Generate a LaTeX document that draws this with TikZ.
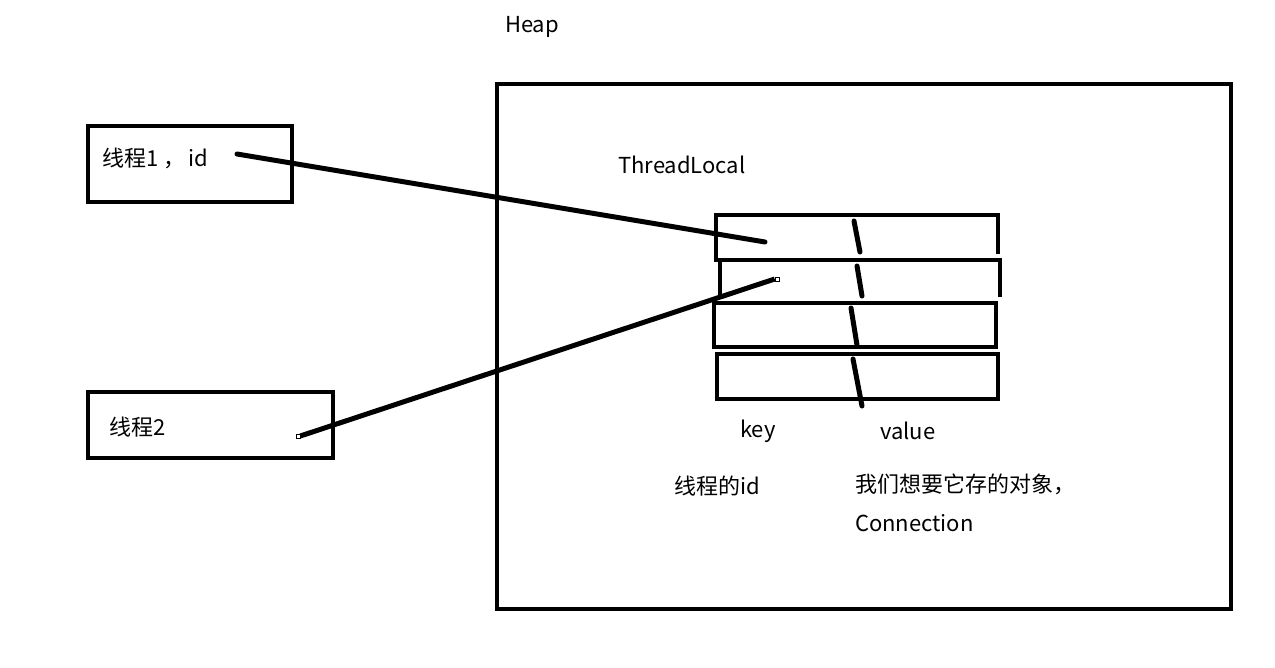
\documentclass[tikz,border=0pt]{standalone}
\usepackage{fontspec}
\setmainfont{Noto Sans CJK SC}
\begin{document}
\begin{tikzpicture}[x=1pt,y=-1pt,
  box/.style={draw=black,line width=4pt},
  wire/.style={draw=black,line width=5pt,line cap=round},
  handle/.style={draw=black,fill=white,line width=0.6pt,minimum size=4pt,inner sep=0pt},
  lbl/.style={font=\fontsize{22}{26}\selectfont,inner sep=0pt}]
\useasboundingbox[fill=white] (0,0) rectangle (1275,667);
% boxes
\draw[box] (88,126) rectangle (292,202);
\draw[box] (88,392) rectangle (333,458);
\draw[box] (497,84) rectangle (1231,609);
% table rows
\draw[box] (716,262) -- (716,215) -- (998,215) -- (998,254);
\draw[box] (720,298) -- (720,260) -- (1000,260) -- (1000,297);
\draw[box] (714,303) rectangle (996,347);
\draw[box] (717,354) rectangle (998,399);
% dividers
\draw[wire] (854,221) -- (860,252);
\draw[wire] (857,266) -- (862,296);
\draw[wire] (851,308) -- (857,345);
\draw[wire] (853,359) -- (862,406);
% texts
\node[lbl,anchor=center] (heap) at (532,27) {Heap};
\node[lbl,anchor=west] (tl) at (618,165) {ThreadLocal};
\node[lbl,anchor=west] (t1) at (102,158) {线程1 ，\hspace{3pt}id};
\node[lbl,anchor=west] (t2) at (109,427) {线程2};
\node[lbl,anchor=west] (key) at (740,431) {key};
\node[lbl,anchor=west] (val) at (880,431) {value};
\node[lbl,anchor=west] (kid) at (674,486) {线程的id};
\node[lbl,anchor=west] (vobj) at (855,484) {我们想要它存的对象，};
\node[lbl,anchor=west] (conn) at (855,523) {Connection};
% connectors
\coordinate (a1) at (237,154);
\coordinate (b1) at (765,242);
\draw[wire] (a1) -- (b1);
\node[handle] (a2) at (298,436) {};
\node[handle] (b2) at (777,279) {};
\draw[wire,line cap=butt] (a2.east) -- (b2.west);
\end{tikzpicture}
\end{document}
